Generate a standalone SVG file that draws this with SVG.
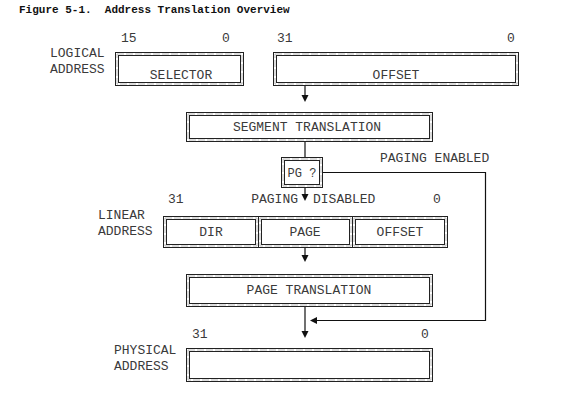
<svg xmlns="http://www.w3.org/2000/svg" width="588" height="414" viewBox="0 0 588 414">
<style>
text{font-family:"Liberation Mono","Courier New",monospace;font-size:13px;fill:#3a3a3a}
.title{font-size:11px;font-weight:bold;fill:#111}
.c{text-anchor:middle}
.b{fill:#fff;stroke:#222;stroke-width:1}
.i{fill:none;stroke:#222;stroke-width:1}
.m{fill:none;stroke:#bbb;stroke-width:1;stroke-dasharray:7 2}
.ln{fill:none;stroke:#111;stroke-width:1.2}
.ah{fill:#111}
</style>
<rect width="588" height="414" fill="#fff"/>
<text class="title" x="19" y="13" xml:space="preserve">Figure 5-1.  Address Translation Overview</text>

<g id="connectors">
<path class="ln" d="M305 85V95"/><path class="ah" d="M301.5 95h7l-3.5 7z"/>
<path class="ln" d="M305 141V157"/>
<path class="ln" d="M305 187V194"/><path class="ah" d="M301.5 194h7l-3.5 7z"/>
<path class="ln" d="M305 247V255"/><path class="ah" d="M301.5 255h7l-3.5 7z"/>
<path class="ln" d="M305 306V331"/><path class="ah" d="M301.5 331h7l-3.5 7z"/>
<path class="ln" d="M322 172.5H485.5V320.5H316"/><path class="ah" d="M317 317v7l-7-3.5z"/>
</g>

<g id="logical">
<text x="50" y="57">LOGICAL</text>
<text x="50" y="73">ADDRESS</text>
<text x="121" y="42">15</text>
<text x="222" y="42">0</text>
<text x="277" y="42">31</text>
<text x="507" y="42">0</text>
</g>
<g id="selector">
<rect class="b" x="115.5" y="52.5" width="128" height="33"/>
<rect class="m" x="117" y="54" width="125" height="30"/>
<rect class="i" x="118.5" y="55.5" width="122" height="27"/>
<text class="c" x="181" y="79">SELECTOR</text>
</g>
<g id="offset">
<rect class="b" x="273.5" y="52.5" width="245" height="33"/>
<rect class="m" x="275" y="54" width="242" height="30"/>
<rect class="i" x="276.5" y="55.5" width="239" height="27"/>
<text class="c" x="396" y="79">OFFSET</text>
</g>
<g id="segment">
<rect class="b" x="186.5" y="112.5" width="246" height="29"/>
<rect class="m" x="188" y="114" width="243" height="26"/>
<rect class="i" x="189.5" y="115.5" width="240" height="23"/>
<text class="c" x="307" y="131">SEGMENT TRANSLATION</text>
</g>
<g id="pg">
<rect class="b" x="281.5" y="157.5" width="41" height="30"/>
<rect class="m" x="283" y="159" width="38" height="27"/>
<rect class="i" x="284.5" y="160.5" width="35" height="24"/>
<text class="c" x="302" y="177" style="font-size:12px">PG ?</text>
</g>
<g id="labels">
<text x="298" y="203" text-anchor="end">PAGING</text>
<text x="313" y="203">DISABLED</text>
<text x="380" y="162">PAGING ENABLED</text>
</g>
<g id="linear">
<text x="98" y="219">LINEAR</text>
<text x="98" y="235">ADDRESS</text>
<text x="168" y="203">31</text>
<text x="433" y="203">0</text>
<rect class="b" x="163.5" y="216.5" width="95" height="31"/>
<rect class="m" x="165" y="218" width="92" height="28"/>
<rect class="i" x="166.5" y="219.5" width="89" height="25"/>
<rect class="b" x="258.5" y="216.5" width="94" height="31"/>
<rect class="m" x="260" y="218" width="91" height="28"/>
<rect class="i" x="261.5" y="219.5" width="88" height="25"/>
<rect class="b" x="352.5" y="216.5" width="95" height="31"/>
<rect class="m" x="354" y="218" width="92" height="28"/>
<rect class="i" x="355.5" y="219.5" width="89" height="25"/>
<text class="c" x="211" y="236">DIR</text>
<text class="c" x="305" y="236">PAGE</text>
<text class="c" x="400" y="236">OFFSET</text>
</g>
<g id="pagetrans">
<rect class="b" x="186.5" y="274.5" width="246" height="32"/>
<rect class="m" x="188" y="276" width="243" height="29"/>
<rect class="i" x="189.5" y="277.5" width="240" height="26"/>
<text class="c" x="309" y="294">PAGE TRANSLATION</text>
</g>
<g id="physical">
<text x="114" y="354">PHYSICAL</text>
<text x="114" y="370">ADDRESS</text>
<text x="192" y="338">31</text>
<text x="421" y="338">0</text>
<rect class="b" x="186.5" y="348.5" width="246" height="33"/>
<rect class="m" x="188" y="350" width="243" height="30"/>
<rect class="i" x="189.5" y="351.5" width="240" height="27"/>
</g>
</svg>
